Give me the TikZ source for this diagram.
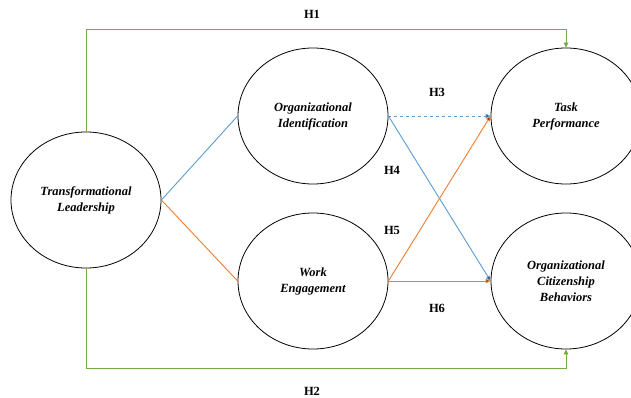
\documentclass[tikz,border=0pt]{standalone}
\usepackage{fontspec}
\setmainfont{Liberation Serif}
\usepackage{tikz}
\usetikzlibrary{shapes.geometric, arrows.meta}

\definecolor{pathblue}{RGB}{91,155,213}
\definecolor{pathorange}{RGB}{237,125,49}
\definecolor{pathgreen}{RGB}{112,173,71}

\begin{document}
\begin{tikzpicture}[x=1pt, y=-1pt, font=\fontsize{12.5}{16}\selectfont]
        % Setup the styles for the constructs and hypotheses
        \tikzset{construct/.style={ellipse,
                                   draw=black,
                                   line width=0.8pt,
                                   minimum width=150pt,
                                   minimum height=136pt,
                                   align=center,
                                   font=\fontsize{12.5}{16}\selectfont\bfseries\itshape},
                 hyp/.style={font=\fontsize{12.5}{15}\selectfont\bfseries},
                 tip/.style={-{Triangle[length=5pt,width=4.5pt]}}}

        \useasboundingbox (0,0) rectangle (631,398);

        % Draw the constructs
        \node[construct] at (86, 200)  (lead)   {Transformational\\Leadership};
        \node[construct] at (313, 116) (ident)  {Organizational\\Identification};
        \node[construct] at (313, 281) (engage) {Work\\Engagement};
        \node[construct] at (566, 116) (task)   {Task\\Performance};
        \node[construct] at (566, 281) (ocb)    {Organizational\\Citizenship\\Behaviors};

        % Hypothesis labels
        \node[hyp] at (312, 14)  (h1) {H1};
        \node[hyp] at (312, 391) (h2) {H2};
        \node[hyp] at (437, 92)  (h3) {H3};
        \node[hyp] at (392, 170) (h4) {H4};
        \node[hyp] at (392, 230) (h5) {H5};
        \node[hyp] at (437, 308) (h6) {H6};

        % Direct effects
        \draw[line width=0.8pt, draw=pathgreen, tip]
            (lead.north) -- (lead.north |- 0,29) -| (task.north);
        \draw[line width=0.8pt, draw=pathgreen, tip]
            (lead.south) -- (lead.south |- 0,368) -| (ocb.south);

        % Connect the constructs
        \draw[line width=0.9pt, draw=pathblue]
            (lead.east) edge (ident.west)
            (ident.east) edge[tip, dashed] (task.west)
            (ident.east) edge[tip] (ocb.west);
        \draw[line width=0.9pt, draw=pathorange]
            (lead.east) edge (engage.west)
            (engage.east) edge[tip] (task.west)
            (engage.east) edge[tip] (ocb.west);
\end{tikzpicture}
\end{document}
